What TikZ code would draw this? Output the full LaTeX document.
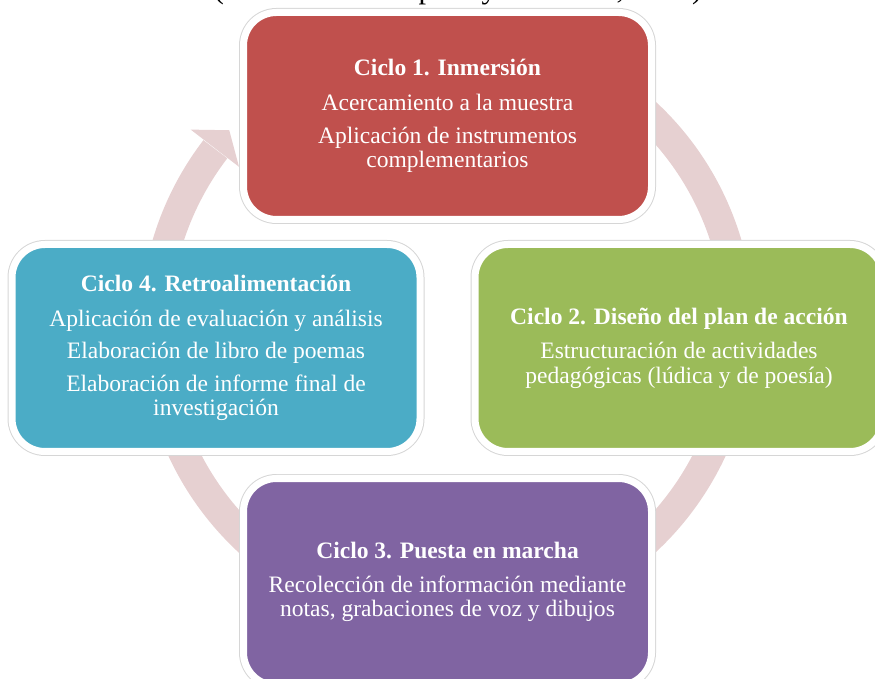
\documentclass[tikz,border=0pt]{standalone}
\usepackage{fontspec}
\setmainfont{Liberation Serif}
\usepackage{xcolor}
\usetikzlibrary{positioning, calc}

\definecolor{ciclored}{HTML}{C0504D}
\definecolor{ciclogreen}{HTML}{9BBB59}
\definecolor{ciclopurple}{HTML}{8064A2}
\definecolor{cicloblue}{HTML}{4BACC6}
\definecolor{ringpink}{HTML}{E6D0D1}

\tikzset{
  ciclo/.style={rectangle, rounded corners=0.66cm, minimum width=8.16cm,
    minimum height=4.14cm, draw=white, line width=0.14cm,
    preaction={draw=black!16, line width=0.18cm},
    text=white, align=center, font=\fontsize{13.4}{13.7}\selectfont},
  ring/.style={draw=ringpink, line width=0.6cm},
}

\begin{document}
\begin{tikzpicture}
      \useasboundingbox (0,0) rectangle (17.5,-13.58);
      \clip (0,0) rectangle (17.5,-13.58);
      % citation line, cut by the top edge
      \node[anchor=base, font=\fontsize{17.2}{20}\selectfont] (cita) at (9.16,0.02)
        {(Hernández-Sampieri y Mendoza, 2018)};
      % big circular arrow behind the boxes
      \coordinate (ctr) at (8.94,-6.54);
      \draw[ring] ($(ctr)+(60:5.84)$) arc[start angle=60, end angle=-217.5, radius=5.84];
      \fill[ringpink] ($(ctr)+(142.4:5.25)$) -- ($(ctr)+(142.4:6.47)$)
        -- ($(ctr)+(137.9:5.87)$) -- cycle;
      % the four cycles
      \node[ciclo, fill=ciclored] (c1) at (8.95,-2.32)
        {\textbf{Ciclo 1. Inmersión}\\[6pt]
         Acercamiento a la muestra\\[5pt]
         Aplicación de instrumentos\\ complementarios};
      \node[ciclo, fill=ciclogreen] (c2) at (13.58,-6.96)
        {\textbf{Ciclo 2. Diseño del plan de acción}\\[6pt]
         Estructuración de actividades\\ pedagógicas (lúdica y de poesía)};
      \node[ciclo, fill=ciclopurple] (c3) at (8.95,-11.64)
        {\textbf{Ciclo 3. Puesta en marcha}\\[6pt]
         Recolección de información mediante\\ notas, grabaciones de voz y dibujos};
      \node[ciclo, fill=cicloblue] (c4) at (4.32,-6.96)
        {\textbf{Ciclo 4. Retroalimentación}\\[6pt]
         Aplicación de evaluación y análisis\\[5pt]
         Elaboración de libro de poemas\\[5pt]
         Elaboración de informe final de\\ investigación};
\end{tikzpicture}
\end{document}
